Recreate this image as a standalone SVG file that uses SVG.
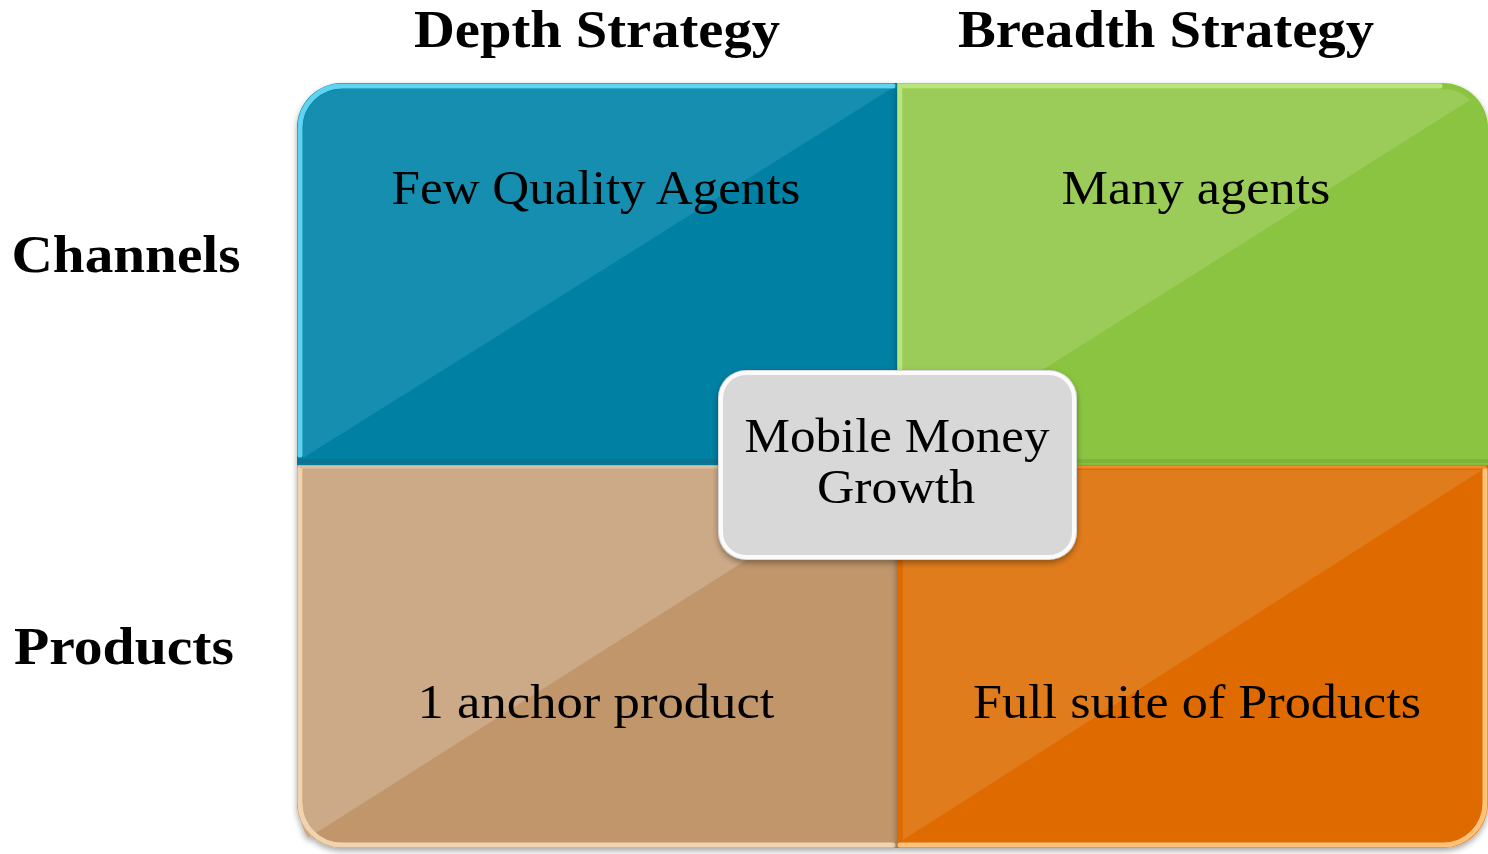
<svg xmlns="http://www.w3.org/2000/svg" width="1488" height="854" viewBox="0 0 1488 854">
<defs>
<style>
.hd{font-family:"Liberation Serif","Times New Roman",serif;font-weight:bold;font-size:52px;fill:#000;text-anchor:middle}
.lb{font-family:"Liberation Serif","Times New Roman",serif;font-size:49px;fill:#000;text-anchor:middle}
.hl{fill:none;stroke-width:5;stroke-linecap:round}
</style>
<filter id="sh" x="-5%" y="-5%" width="110%" height="115%">
<feGaussianBlur in="SourceAlpha" stdDeviation="3"/>
<feOffset dx="0" dy="3"/>
<feComponentTransfer><feFuncA type="linear" slope="0.35"/></feComponentTransfer>
<feMerge><feMergeNode/><feMergeNode in="SourceGraphic"/></feMerge>
</filter>
</defs>
<rect width="1488" height="854" fill="#fff"/>

<g id="headers">
<text class="hd" x="597" y="47" textLength="366" lengthAdjust="spacingAndGlyphs">Depth Strategy</text>
<text class="hd" x="1166" y="47" textLength="416" lengthAdjust="spacingAndGlyphs">Breadth Strategy</text>
<text class="hd" x="126" y="272" textLength="229" lengthAdjust="spacingAndGlyphs">Channels</text>
<text class="hd" x="124" y="664" textLength="220" lengthAdjust="spacingAndGlyphs">Products</text>
</g>

<g id="q-tl" filter="url(#sh)">
<path d="M297,465 V128 A45,45 0 0 1 342,83 H897 V465 Z" fill="#0080a3"/>
<path d="M303,458 V128 A39,39 0 0 1 342,89 H891 Z" fill="#138eb0"/>
<path class="hl" d="M300,455 V128 A42,42 0 0 1 342,86 H893" stroke="#5fd4f2"/>
<path d="M297,461 H897" stroke="#0a7390" stroke-width="4"/>
<text class="lb" x="596" y="204" textLength="409" lengthAdjust="spacingAndGlyphs">Few Quality Agents</text>
</g>

<g id="q-tr" filter="url(#sh)">
<path d="M897,83 H1443 A45,45 0 0 1 1488,128 V465 H897 Z" fill="#8bc441"/>
<path d="M903,458 V89 H1443 A39,39 0 0 1 1470,100 Z" fill="#9bcb58"/>
<path class="hl" d="M900,460 V86 H1440" stroke="#b8e67a"/>
<path d="M897,461 H1488" stroke="#7db437" stroke-width="4"/>
<text class="lb" x="1196" y="204" textLength="269" lengthAdjust="spacingAndGlyphs">Many agents</text>
</g>

<g id="q-bl" filter="url(#sh)">
<path d="M297,465 H897 V848 H342 A45,45 0 0 1 297,803 Z" fill="#c0966b"/>
<path d="M303,468 H891 L308,838 A39,39 0 0 1 303,803 Z" fill="#cca987"/>
<path class="hl" d="M300,468 V803 A42,42 0 0 0 342,845 H893" stroke="#f1d3b0"/>
<path d="M299,467 H895" stroke="#dcbf9e" stroke-width="3"/>
<text class="lb" x="596" y="718" textLength="357" lengthAdjust="spacingAndGlyphs">1 anchor product</text>
</g>

<g id="q-br" filter="url(#sh)">
<path d="M897,465 H1488 V803 A45,45 0 0 1 1443,848 H897 Z" fill="#df6a00"/>
<path d="M903,470 H1482 L903,840 Z" fill="#e07b1e"/>
<path class="hl" d="M900,845 H1443 A42,42 0 0 0 1485,803 V470" stroke="#ffc27a"/>
<path d="M899,467 H1486" stroke="#f08a2a" stroke-width="3"/>
<text class="lb" x="1197" y="718" textLength="448" lengthAdjust="spacingAndGlyphs">Full suite of Products</text>
</g>

<g id="center" filter="url(#sh)">
<rect x="718" y="370" width="359" height="190" rx="28" fill="#d8d8d8"/>
<rect x="721" y="373" width="353" height="184" rx="25" fill="none" stroke="#ffffff" stroke-width="4" opacity="0.9"/>
<text class="lb" x="897" y="452" textLength="305" lengthAdjust="spacingAndGlyphs">Mobile Money</text>
<text class="lb" x="896" y="503" textLength="158" lengthAdjust="spacingAndGlyphs">Growth</text>
</g>

<g id="connectors"></g>
</svg>
